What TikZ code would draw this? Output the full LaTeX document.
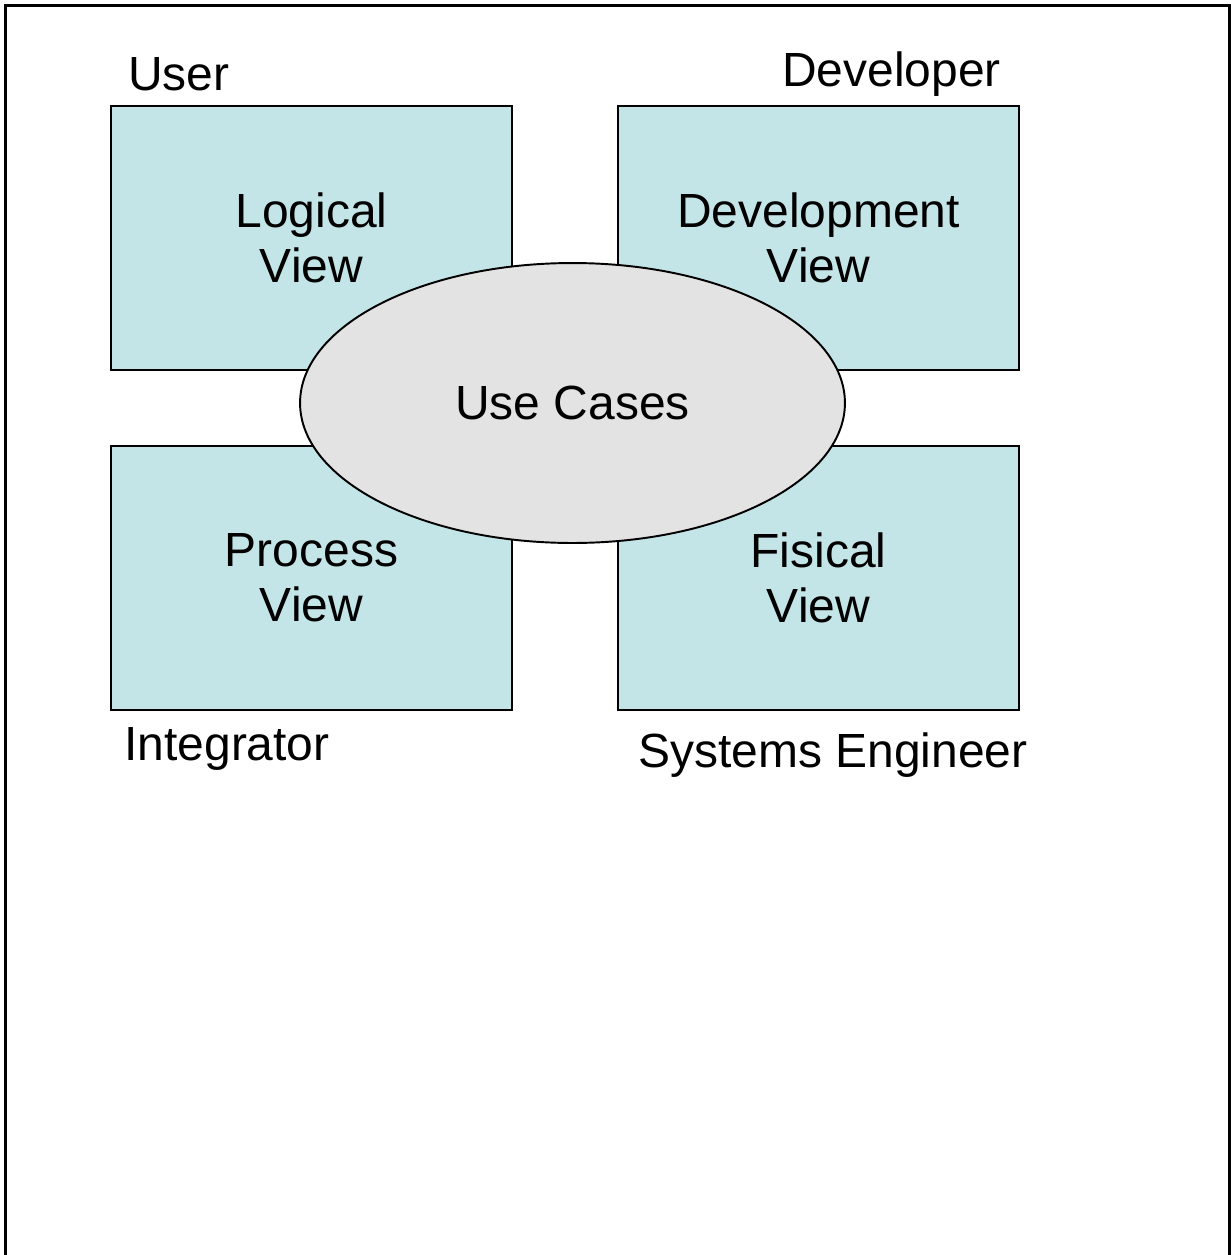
\documentclass[tikz,border=0pt]{standalone}
\usepackage{fontspec}
\setmainfont{Liberation Sans}
\usetikzlibrary{shapes.geometric}
\definecolor{viewfill}{RGB}{196,229,231}
\definecolor{casefill}{RGB}{227,227,227}
\begin{document}
\begin{tikzpicture}[x=0.02cm,y=-0.02cm,
    view/.style={draw,line width=1.1pt,fill=viewfill,minimum width=8.02cm,minimum height=5.28cm,align=center,inner sep=0pt,font=\fontsize{27.3}{31.3}\selectfont},
    usecase/.style={draw,ellipse,line width=1.1pt,fill=casefill,minimum width=10.9cm,minimum height=5.6cm,inner sep=0pt,font=\fontsize{27.3}{31.3}\selectfont},
    role/.style={anchor=base west,inner sep=0pt,font=\fontsize{27.3}{31.3}\selectfont}]
\useasboundingbox (0,0) rectangle (1231,1255);
\begin{scope}
\clip (0,0) rectangle (1231,1255);
\draw[line width=1.4pt] (5.5,5.5) rectangle (1229.5,1280);
\end{scope}
\node[view](logical) at (311.5,238){Logical\\View};
\node[view](development) at (818.5,238){Development\\View};
\node[view](process) at (311.5,578){Process\\View};
\node[view](fisical) at (818.5,578){Fisical\\View};
\node[usecase](cases) at (572.5,403){Use Cases};
\node[role](user) at (128,90){User};
\node[role](developer) at (782,86){Developer};
\node[role](integrator) at (124,760){Integrator};
\node[role](engineer) at (638,767){Systems Engineer};
\end{tikzpicture}
\end{document}
